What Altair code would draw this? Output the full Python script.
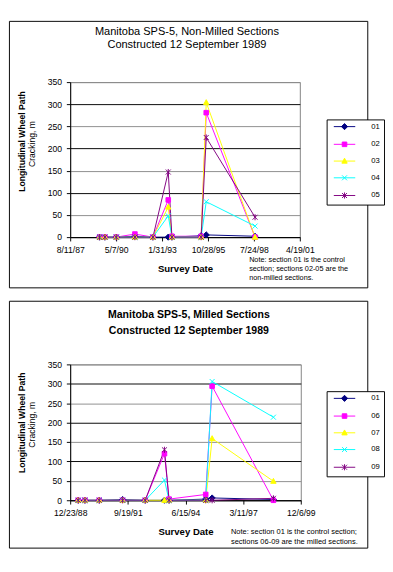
import altair as alt
import pandas as pd

FONT = "Liberation Sans"

# ---------------- data ----------------
SURVEY_DATES = ["1989-05-11", "1989-09-05", "1990-05-11", "1991-06-20", "1992-07-16",
                "1993-06-15", "1993-09-03", "1995-06-01", "1995-09-20", "1998-08-18"]

TOP_SECTIONS = ["01", "02", "03", "04", "05"]
TOP_01 = [0, 0, 0, 2, 0, 0, 0, 3, 5, 2]
TOP_02 = [0, 0, 0, 7, 0, 84, 2, 2, 281, 0]
TOP_03 = [0, 0, 0, 0, 0, 68, 0, 0, 304, 0]
TOP_04 = [0, 0, 0, 0, 0, 48, 0, 0, 80, 25]
TOP_05 = [0, 0, 0, 0, 0, 147, 0, 0, 225, 45]

BOTTOM_SECTIONS = ["01", "06", "07", "08", "09"]
BOT_01 = [0, 0, 0, 2, 0, 0, 0, 3, 6, 2]
BOT_06 = [0, 0, 0, 0, 0, 120, 3, 15, 294, 0]
BOT_07 = [0, 0, 0, 0, 0, 0, 0, 0, 159, 49]
BOT_08 = [0, 0, 0, 0, 0, 52, 0, 0, 306, 214]
BOT_09 = [0, 0, 0, 0, 0, 130, 0, 0, 0, 5]

Y_TICKS = [0, 50, 100, 150, 200, 250, 300, 350]
TOP_X_TICKS = ["1987-08-11", "1990-05-07", "1993-01-31", "1995-10-28", "1998-07-24", "2001-04-19"]
BOTTOM_X_TICKS = ["1988-12-23", "1991-09-19", "1994-06-15", "1997-03-11", "1999-12-06"]

COLORS = ["#000080", "#FF00FF", "#FFFF00", "#00FFFF", "#800080"]

TOP_TITLE = ["Manitoba SPS-5, Non-Milled Sections", "Constructed 12 September 1989"]
BOTTOM_TITLE = ["Manitoba SPS-5, Milled Sections", "Constructed 12 September 1989"]
Y_TITLE = ["Longitudinal Wheel Path", "Cracking, m"]
X_TITLE = "Survey Date"
TOP_NOTE = ["Note: section 01 is the control", "section; sections 02-05 are the", "non-milled sections."]
BOTTOM_NOTE = ["Note: section 01 is the control section;", "sections 06-09 are the milled sections."]

# ---------------- styles ----------------
MARK_PATHS = ["M0,-1.6L1.6,0L0,1.6L-1.6,0Z",
              "M-1.2,-1.2H1.2V1.2H-1.2Z",
              "M0,-1.5L1.4,1.1H-1.4Z",
              "M-1.3,-1.3L1.3,1.3M-1.3,1.3L1.3,-1.3",
              "M-1.3,-1.3L1.3,1.3M-1.3,1.3L1.3,-1.3M0,-1.6L0,1.6"]
LEGEND_LINE = "M-5.6,0H5.6"
LEGEND_SYMBOLS = [LEGEND_LINE + p for p in MARK_PATHS]
MARK_SIZE = 16
NO_PAD = {"left": 0, "top": 0, "right": 0, "bottom": 0}


def dt(s):
    y, m, d = (int(v) for v in s.split("-"))
    return alt.DateTime(year=y, month=m, date=d, utc=True)


def one():
    return alt.Chart(alt.Data(values=[{}]))


def text(txt, x, y, size, weight="normal", align="left", angle=0):
    return one().mark_text(text=txt, font=FONT, fontSize=size, fontWeight=weight,
                           align=align, baseline="middle", angle=angle,
                           color="black").encode(x=alt.value(x), y=alt.value(y))


def panel(sections, series, ticks, w, h, legend_xy, box, titles, title_x, title_ys,
          title_weight, title_size, ytitle_ys, notes, note_x, note_ys, note_size):
    rows = []
    for s, vals in zip(sections, series):
        for d, v in zip(SURVEY_DATES, vals):
            rows.append({"date": d, "section": s, "value": v})
    df = pd.DataFrame(rows)
    base = alt.Chart(df)

    x = alt.X("date:T",
              scale=alt.Scale(type="utc", domain=[dt(ticks[0]), dt(ticks[-1])]),
              axis=alt.Axis(values=[dt(t) for t in ticks], format="%-m/%-d/%y",
                            title=X_TITLE, grid=False, labelFlush=False, labelOverlap=False,
                            tickSize=4, labelPadding=5,
                            titleFont=FONT, titleFontSize=10, titleFontWeight="bold",
                            titleY=33, titleBaseline="middle", titleColor="black"))
    y = alt.Y("value:Q",
              scale=alt.Scale(domain=[0, 350]),
              axis=alt.Axis(values=Y_TICKS, title=None, grid=True,
                            gridColor={"condition": {"test": "datum.value % 100 === 0",
                                                     "value": "#000000"},
                                       "value": "#8c8c8c"},
                            tickSize=4, labelPadding=5))
    cscale = alt.Scale(domain=sections, range=COLORS)

    lines = base.mark_line(strokeWidth=1).encode(
        x=x, y=y, color=alt.Color("section:N", scale=cscale, legend=None))
    points = base.mark_point(filled=True, size=MARK_SIZE, opacity=1, strokeWidth=1).encode(
        x=x, y=y,
        shape=alt.Shape("section:N", scale=alt.Scale(domain=sections, range=MARK_PATHS), legend=None),
        fill=alt.Fill("section:N", scale=cscale, legend=None),
        stroke=alt.Stroke("section:N", scale=cscale, legend=None))

    leg = alt.Legend(orient="none", legendX=legend_xy[0], legendY=legend_xy[1], title=None,
                     labelFont=FONT, labelFontSize=8, labelColor="black",
                     symbolSize=MARK_SIZE, symbolStrokeWidth=1, symbolOffset=11.2, labelOffset=24,
                     rowPadding=7.5, padding=3.5, strokeColor="black", fillColor="white")
    legend_layer = base.transform_filter("false").mark_point(
        filled=True, size=MARK_SIZE, opacity=1, strokeWidth=1).encode(
        shape=alt.Shape("section:N", scale=alt.Scale(domain=sections, range=LEGEND_SYMBOLS), legend=leg),
        fill=alt.Fill("section:N", scale=cscale, legend=leg),
        stroke=alt.Stroke("section:N", scale=cscale, legend=leg))

    frame = one().mark_rect(fill="transparent", stroke="black", strokeWidth=1).encode(
        x=alt.value(box[0]), x2=alt.value(box[1]), y=alt.value(box[2]), y2=alt.value(box[3]))

    texts = [text(t, title_x, ty, title_size, title_weight, "center") for t, ty in zip(titles, title_ys)]
    texts.append(text(Y_TITLE[0], -50, ytitle_ys[0], 9, "bold", "center", 270))
    texts.append(text(Y_TITLE[1], -39.5, ytitle_ys[1], 9, "normal", "center", 270))
    texts += [text(t, note_x, ny, note_size) for t, ny in zip(notes, note_ys)]

    return alt.layer(frame, lines, points, legend_layer, *texts).resolve_scale(
        shape="independent", fill="independent", stroke="independent"
    ).properties(width=w, height=h)


top = panel(TOP_SECTIONS, [TOP_01, TOP_02, TOP_03, TOP_04, TOP_05], TOP_X_TICKS, 240, 162,
            (268, 39), (-63.5, 311, -63.5, 215), TOP_TITLE, 122, (-52, -39), "normal", 11.5,
            (62, 64.7), TOP_NOTE, 187, (186.3, 195.7, 205), 7.6)
bottom = panel(BOTTOM_SECTIONS, [BOT_01, BOT_06, BOT_07, BOT_08, BOT_09], BOTTOM_X_TICKS, 241, 142,
               (268, 28), (-63.5, 311, -66, 192), BOTTOM_TITLE, 124, (-52, -35), "bold", 11,
               (61, 63), BOTTOM_NOTE, 168, (175.5, 185.5), 7.8)

chart = alt.vconcat(top, bottom, spacing=12).resolve_scale(
    color="independent", shape="independent", fill="independent", stroke="independent"
).properties(padding=NO_PAD).configure(padding=NO_PAD).configure_view(stroke="#808080").configure_axis(
    domainColor="black", tickColor="black", labelColor="black",
    labelFont=FONT, labelFontSize=9, gridWidth=1
)

chart.save("out.html", embed_options={"renderer": "svg", "actions": False})
